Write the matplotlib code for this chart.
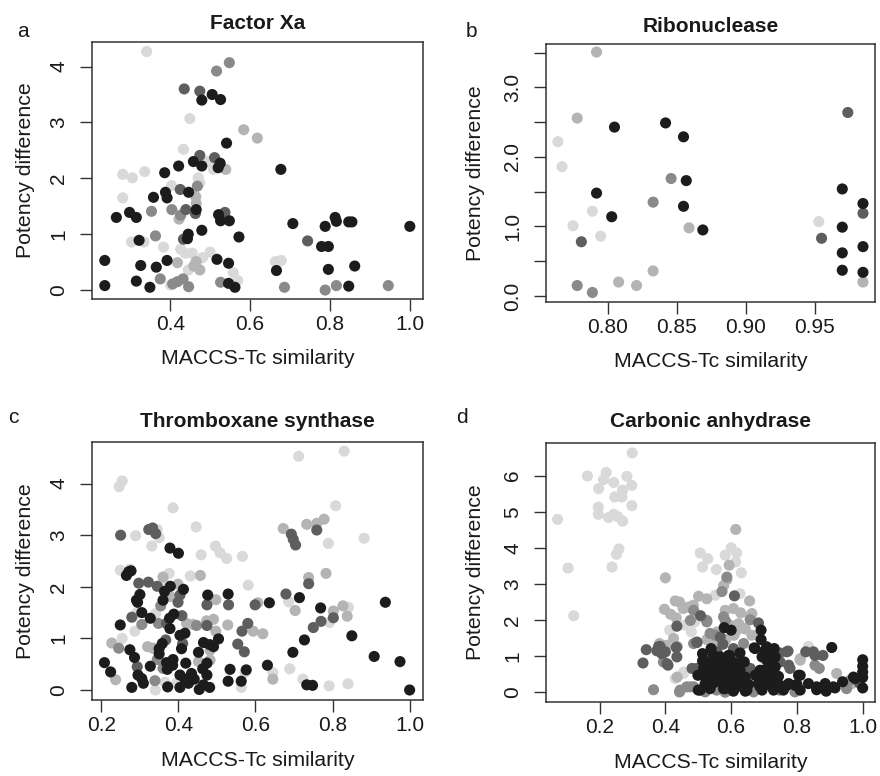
import numpy as np
import matplotlib
matplotlib.use('Agg')
import matplotlib.pyplot as plt

plt.rcParams['font.family'] = ['Liberation Sans', 'DejaVu Sans']

# grey levels: 0 = black ... 4 = very light grey
SHADES = ['#1c1c1c', '#5e5e5e', '#8a8a8a', '#b4b4b4', '#d9d9d9']

# ---- a: Factor Xa ----
a_x = [0.341, 0.548, 0.516, 0.435, 0.474, 0.505, 0.479, 0.526, 0.449, 0.584,
       0.618, 0.541, 0.433, 0.474, 0.511, 0.458, 0.479, 0.421, 0.525, 0.520,
       0.495, 0.508, 0.539, 0.677, 0.281, 0.305, 0.336, 0.386, 0.403, 0.470,
       0.474, 0.468, 0.425, 0.446, 0.388, 0.392, 0.358, 0.281, 0.464, 0.465,
       0.404, 0.439, 0.465, 0.463, 0.426, 0.422, 0.353, 0.298, 0.315, 0.265,
       0.537, 0.521, 0.526, 0.548, 0.707, 0.788, 0.813, 0.816, 0.847, 0.855,
       1.000, 0.479, 0.445, 0.443, 0.433, 0.572, 0.363, 0.322, 0.303, 0.334,
       0.383, 0.744, 0.779, 0.796, 0.426, 0.455, 0.438, 0.500, 0.481, 0.517,
       0.546, 0.392, 0.418, 0.465, 0.236, 0.326, 0.365, 0.459, 0.474, 0.445,
       0.663, 0.678, 0.666, 0.796, 0.862, 0.558, 0.569, 0.375, 0.315, 0.432,
       0.418, 0.406, 0.526, 0.546, 0.562, 0.446, 0.236, 0.349, 0.686, 0.788,
       0.816, 0.847, 0.946, 0.401]
a_y = [4.27, 4.07, 3.92, 3.60, 3.56, 3.50, 3.40, 3.41, 3.07, 2.87,
       2.72, 2.63, 2.52, 2.41, 2.37, 2.30, 2.22, 2.22, 2.27, 2.19,
       2.30, 2.16, 2.16, 2.16, 2.07, 2.01, 2.12, 2.10, 1.87, 2.01,
       1.92, 1.86, 1.80, 1.75, 1.75, 1.65, 1.66, 1.65, 1.67, 1.55,
       1.44, 1.44, 1.44, 1.37, 1.34, 1.27, 1.41, 1.39, 1.30, 1.30,
       1.39, 1.35, 1.24, 1.24, 1.19, 1.14, 1.30, 1.23, 1.22, 1.22,
       1.14, 1.07, 1.00, 0.92, 0.91, 0.95, 0.97, 0.89, 0.86, 0.86,
       0.77, 0.88, 0.78, 0.78, 0.73, 0.66, 0.66, 0.68, 0.58, 0.55,
       0.48, 0.53, 0.49, 0.51, 0.53, 0.44, 0.41, 0.43, 0.36, 0.36,
       0.51, 0.53, 0.35, 0.37, 0.43, 0.31, 0.17, 0.20, 0.16, 0.20,
       0.15, 0.11, 0.14, 0.12, 0.05, 0.06, 0.08, 0.05, 0.05, 0.00,
       0.08, 0.07, 0.08, 0.09]
a_shade = [4, 2, 2, 1, 1, 0, 0, 0, 4, 3,
           3, 0, 4, 1, 1, 0, 0, 0, 0, 0,
           4, 4, 3, 0, 4, 4, 4, 0, 4, 4,
           4, 2, 1, 0, 0, 0, 0, 4, 3, 3,
           2, 1, 0, 1, 2, 3, 2, 0, 0, 0,
           1, 0, 0, 0, 0, 0, 0, 0, 0, 0,
           0, 0, 0, 0, 1, 0, 2, 0, 4, 4,
           4, 1, 0, 0, 4, 4, 4, 4, 4, 0,
           0, 0, 3, 3, 0, 0, 0, 3, 3, 4,
           4, 4, 0, 0, 0, 4, 4, 2, 0, 2,
           2, 2, 2, 0, 0, 2, 0, 0, 2, 2,
           2, 0, 2, 4]

# ---- b: Ribonuclease ----
b_x = [0.792, 0.778, 0.764, 0.767, 0.805, 0.842, 0.855, 0.974, 0.846, 0.857,
       0.792, 0.970, 0.833, 0.855, 0.985, 0.985, 0.789, 0.803, 0.775, 0.953,
       0.859, 0.869, 0.970, 0.795, 0.955, 0.781, 0.985, 0.970, 0.833, 0.970,
       0.985, 0.985, 0.808, 0.821, 0.778, 0.789]
b_y = [3.51, 2.56, 2.22, 1.86, 2.43, 2.49, 2.29, 2.64, 1.69, 1.66,
       1.48, 1.54, 1.35, 1.29, 1.33, 1.19, 1.22, 1.14, 1.01, 1.07,
       0.98, 0.95, 0.99, 0.86, 0.83, 0.78, 0.71, 0.62, 0.36, 0.37,
       0.34, 0.20, 0.20, 0.15, 0.15, 0.05]
b_shade = [3, 3, 4, 4, 0, 0, 0, 1, 2, 0,
           0, 0, 2, 0, 0, 1, 4, 0, 4, 4,
           3, 0, 0, 4, 1, 1, 0, 0, 3, 0,
           0, 3, 3, 3, 2, 2]

# ---- c: Thromboxane synthase ----
c_x = [0.830, 0.712, 0.254, 0.246, 0.386, 0.808, 0.778, 0.759, 0.733, 0.672,
       0.446, 0.323, 0.333, 0.345, 0.341, 0.250, 0.289, 0.350, 0.693, 0.698,
       0.704, 0.759, 0.789, 0.882, 0.331, 0.378, 0.400, 0.496, 0.508, 0.459,
       0.525, 0.566, 0.274, 0.271, 0.277, 0.265, 0.249, 0.376, 0.360, 0.431,
       0.457, 0.581, 0.783, 0.738, 0.738, 0.297, 0.322, 0.345, 0.362, 0.379,
       0.364, 0.399, 0.413, 0.404, 0.399, 0.379, 0.300, 0.291, 0.294, 0.360,
       0.476, 0.529, 0.497, 0.474, 0.530, 0.679, 0.714, 0.686, 0.599, 0.606,
       0.636, 0.937, 0.827, 0.802, 0.703, 0.769, 0.841, 0.838, 0.802, 0.770,
       0.750, 0.792, 0.305, 0.293, 0.327, 0.279, 0.305, 0.348, 0.341, 0.354,
       0.377, 0.388, 0.369, 0.378, 0.409, 0.421, 0.438, 0.447, 0.473, 0.491,
       0.474, 0.497, 0.528, 0.580, 0.565, 0.594, 0.619, 0.249, 0.254, 0.287,
       0.227, 0.245, 0.274, 0.367, 0.404, 0.417, 0.411, 0.350, 0.358, 0.320,
       0.334, 0.408, 0.452, 0.465, 0.481, 0.491, 0.504, 0.482, 0.554, 0.571,
       0.727, 0.697, 0.850, 0.286, 0.293, 0.350, 0.345, 0.386, 0.369, 0.371,
       0.385, 0.360, 0.327, 0.419, 0.474, 0.463, 0.452, 0.482, 0.631, 0.534,
       0.576, 0.573, 0.908, 0.975, 0.689, 0.208, 0.224, 0.237, 0.295, 0.305,
       0.309, 0.339, 0.340, 0.279, 0.372, 0.395, 0.404, 0.417, 0.426, 0.434,
       0.441, 0.404, 0.454, 0.465, 0.481, 0.474, 0.529, 0.563, 0.563, 0.645,
       0.645, 0.723, 0.733, 0.748, 0.791, 0.840, 1.000, 0.365]
c_y = [4.63, 4.53, 4.05, 3.94, 3.53, 3.57, 3.31, 3.23, 3.21, 3.13,
       3.16, 3.11, 3.14, 3.11, 3.03, 3.00, 2.99, 2.95, 3.02, 2.92,
       2.81, 3.10, 2.84, 2.94, 2.79, 2.75, 2.65, 2.79, 2.66, 2.62,
       2.55, 2.59, 2.34, 2.29, 2.31, 2.22, 2.32, 2.26, 2.19, 2.21,
       2.22, 2.03, 2.26, 2.18, 2.06, 2.07, 2.09, 2.01, 2.09, 2.01,
       1.91, 2.05, 1.95, 1.84, 1.70, 1.81, 1.85, 1.74, 1.70, 1.74,
       1.84, 1.86, 1.75, 1.65, 1.65, 1.86, 1.79, 1.71, 1.65, 1.69,
       1.69, 1.70, 1.63, 1.53, 1.54, 1.59, 1.60, 1.43, 1.40, 1.33,
       1.21, 1.31, 1.50, 1.50, 1.39, 1.41, 1.27, 1.29, 1.48, 1.63,
       1.39, 1.47, 1.29, 1.19, 1.44, 1.29, 1.27, 1.25, 1.34, 1.37,
       1.25, 1.14, 1.26, 1.29, 1.14, 1.14, 1.09, 1.26, 1.00, 1.14,
       0.91, 0.81, 0.78, 0.97, 1.06, 1.10, 0.90, 0.80, 0.90, 0.84,
       0.81, 0.80, 0.73, 0.92, 0.88, 0.84, 0.99, 0.77, 0.89, 0.74,
       0.97, 0.73, 1.05, 0.63, 0.45, 0.70, 0.59, 0.59, 0.53, 0.40,
       0.48, 0.42, 0.46, 0.52, 0.52, 0.41, 0.55, 0.58, 0.48, 0.40,
       0.39, 0.34, 0.65, 0.55, 0.41, 0.53, 0.35, 0.20, 0.29, 0.22,
       0.13, 0.18, 0.00, 0.05, 0.06, 0.13, 0.29, 0.21, 0.13, 0.32,
       0.21, 0.05, 0.01, 0.10, 0.05, 0.29, 0.17, 0.17, 0.05, 0.21,
       0.34, 0.21, 0.10, 0.09, 0.08, 0.12, 0.00, 0.15]
c_shade = [4, 4, 4, 4, 4, 4, 3, 3, 3, 3,
           4, 1, 1, 4, 1, 1, 4, 4, 1, 1,
           1, 1, 4, 4, 4, 0, 0, 4, 4, 4,
           4, 4, 4, 0, 0, 0, 4, 4, 3, 4,
           3, 4, 3, 3, 1, 1, 1, 1, 4, 0,
           0, 3, 0, 1, 1, 3, 0, 0, 0, 0,
           0, 0, 3, 1, 1, 1, 0, 4, 1, 3,
           0, 0, 3, 3, 3, 0, 4, 3, 1, 1,
           1, 4, 0, 4, 0, 1, 2, 2, 4, 2,
           0, 0, 1, 0, 1, 3, 3, 2, 3, 3,
           1, 3, 3, 1, 1, 3, 3, 0, 4, 4,
           3, 2, 0, 1, 0, 0, 1, 0, 0, 3,
           3, 0, 0, 0, 0, 0, 0, 3, 1, 1,
           0, 0, 0, 0, 1, 0, 2, 0, 0, 0,
           0, 2, 0, 0, 0, 0, 3, 3, 0, 0,
           0, 4, 0, 0, 4, 0, 0, 3, 0, 0,
           0, 2, 4, 0, 0, 4, 0, 0, 0, 0,
           0, 0, 0, 0, 0, 0, 0, 0, 4, 3,
           4, 4, 0, 0, 4, 4, 0, 4]

# ---- d: Carbonic anhydrase ----
d_x = [0.299, 0.220, 0.163, 0.212, 0.283, 0.197, 0.243, 0.298, 0.270, 0.246,
       0.268, 0.196, 0.298, 0.196, 0.227, 0.243, 0.256, 0.270, 0.072, 0.259,
       0.251, 0.238, 0.104, 0.121, 0.614, 0.600, 0.617, 0.582, 0.506, 0.529,
       0.513, 0.555, 0.594, 0.614, 0.631, 0.587, 0.587, 0.577, 0.400, 0.572,
       0.610, 0.627, 0.501, 0.526, 0.552, 0.430, 0.443, 0.470, 0.485, 0.656,
       0.397, 0.416, 0.454, 0.486, 0.507, 0.526, 0.489, 0.460, 0.582, 0.607,
       0.629, 0.663, 0.658, 0.582, 0.597, 0.623, 0.643, 0.609, 0.683, 0.433,
       0.413, 0.435, 0.425, 0.479, 0.536, 0.567, 0.584, 0.546, 0.496, 0.526,
       0.663, 0.638, 0.382, 0.402, 0.579, 0.600, 0.691, 0.691, 0.670, 0.703,
       0.731, 0.773, 0.850, 0.906, 0.879, 0.539, 0.513, 0.546, 0.595, 0.627,
       0.513, 0.548, 0.571, 0.611, 0.640, 0.694, 0.719, 0.734, 0.749, 0.775,
       0.496, 0.521, 0.539, 0.579, 0.604, 0.627, 0.658, 0.688, 0.714, 0.734,
       0.805, 0.921, 0.499, 0.521, 0.546, 0.572, 0.597, 0.622, 0.643, 0.673,
       0.698, 0.723, 0.744, 0.972, 1.000, 1.000, 1.000, 1.000, 1.000, 0.990,
       0.521, 0.546, 0.577, 0.602, 0.627, 0.653, 0.683, 0.709, 0.729, 0.749,
       0.775, 0.800, 0.835, 0.886, 0.939, 0.500, 0.536, 0.577, 0.607, 0.643,
       0.694, 0.729, 0.759, 0.810, 0.860, 0.889, 0.916, 0.342, 0.332, 0.384,
       0.389, 0.374, 0.408, 0.433, 0.435, 0.496, 0.481, 0.575, 0.557, 0.607,
       0.617, 0.747, 0.779, 0.855, 0.810, 0.835, 0.868, 0.364, 0.443, 0.465,
       0.486, 0.521, 0.556, 0.582, 0.668, 0.747, 0.794, 0.951, 0.430, 0.455,
       0.394, 0.967,
       0.540, 0.567, 0.592, 0.622, 0.587, 0.557, 0.516, 0.536, 0.567, 0.597,
       0.627, 0.638, 0.597, 0.567, 0.541, 0.506, 0.582, 0.617, 0.648, 0.673,
       0.708, 0.723, 0.708, 0.729, 0.698, 0.723, 0.708, 0.733, 0.688, 0.769,
       0.795, 0.810, 0.860, 0.911, 0.977, 0.827, 0.855, 0.769, 0.476, 0.526,
       0.557, 0.577, 0.436, 0.486, 0.552, 0.617, 0.642, 0.658, 0.379, 0.400,
       0.405, 0.436, 0.456, 0.476, 0.445, 0.810, 0.962]
d_y = [6.63, 6.09, 5.99, 5.89, 5.98, 5.64, 5.81, 5.73, 5.60, 5.41,
       5.41, 5.13, 5.17, 4.93, 4.84, 4.93, 4.86, 4.74, 4.79, 3.97,
       3.82, 3.47, 3.44, 2.12, 4.51, 4.00, 3.86, 3.80, 3.86, 3.70,
       3.47, 3.40, 3.52, 3.61, 3.31, 3.12, 3.19, 2.95, 3.17, 2.79,
       2.67, 2.73, 2.66, 2.59, 2.69, 2.53, 2.50, 2.36, 2.41, 2.53,
       2.30, 2.16, 2.32, 2.27, 2.12, 1.95, 1.95, 1.86, 2.27, 2.32,
       2.20, 2.18, 2.01, 1.99, 1.86, 1.90, 1.76, 1.58, 1.92, 2.06,
       1.72, 1.83, 1.49, 1.67, 1.63, 1.53, 1.46, 1.35, 1.39, 1.46,
       1.58, 1.35, 1.35, 1.30, 1.79, 1.72, 1.72, 1.46, 1.23, 1.16,
       1.21, 1.14, 1.12, 1.24, 1.02, 1.21, 1.07, 1.02, 1.02, 1.09,
       0.87, 0.84, 0.79, 0.81, 0.84, 0.98, 0.93, 0.98, 0.84, 0.75,
       0.66, 0.70, 0.70, 0.63, 0.66, 0.61, 0.66, 0.61, 0.66, 0.70,
       0.47, 0.52, 0.47, 0.44, 0.44, 0.44, 0.47, 0.44, 0.42, 0.47,
       0.42, 0.44, 0.44, 0.42, 0.90, 0.72, 0.56, 0.41, 0.12, 0.26,
       0.24, 0.26, 0.19, 0.24, 0.22, 0.22, 0.24, 0.22, 0.24, 0.19,
       0.24, 0.22, 0.24, 0.24, 0.29, 0.06, 0.10, 0.10, 0.03, 0.03,
       0.06, 0.06, 0.06, 0.06, 0.07, 0.03, 0.12, 1.18, 0.81, 1.27,
       1.07, 1.15, 0.75, 1.24, 0.98, 1.38, 0.66, 1.33, 1.12, 1.21,
       0.98, 1.09, 0.66, 0.75, 0.93, 1.27, 0.66, 0.07, 0.01, 0.15,
       0.15, 0.01, 0.06, 0.00, 0.01, 0.06, 0.01, 0.10, 0.38, 0.52,
       0.84, 0.24,
       0.89, 0.98, 1.02, 0.79, 0.79, 0.70, 0.66, 0.47, 0.52, 0.56,
       0.56, 0.38, 0.33, 0.29, 0.24, 0.06, 0.10, 0.15, 0.06, 1.21,
       1.26, 1.07, 0.89, 0.70, 0.61, 0.47, 0.29, 0.24, 0.15, 0.19,
       0.19, 0.47, 0.15, 0.15, 0.38, 1.12, 1.02, 1.12, 1.99, 1.99,
       1.67, 2.09, 1.26, 1.35, 1.58, 1.72, 1.76, 2.09, 1.26, 1.12,
       0.79, 0.42, 0.56, 0.15, 0.06, 0.89, 0.33]
d_shade = [4, 4, 4, 4, 4, 4, 4, 4, 4, 4,
           4, 4, 4, 4, 4, 4, 4, 4, 4, 4,
           4, 4, 4, 4, 3, 4, 4, 4, 4, 4,
           4, 4, 3, 4, 4, 3, 2, 3, 3, 2,
           1, 4, 3, 3, 4, 3, 3, 3, 3, 3,
           3, 3, 3, 2, 1, 2, 4, 4, 3, 3,
           3, 3, 2, 2, 3, 3, 3, 3, 1, 3,
           4, 1, 3, 4, 2, 1, 3, 3, 1, 3,
           3, 2, 3, 3, 0, 0, 0, 0, 0, 0,
           0, 1, 1, 0, 1, 0, 0, 0, 0, 0,
           0, 0, 0, 0, 0, 0, 0, 0, 1, 1,
           1, 0, 0, 0, 0, 0, 1, 0, 0, 0,
           0, 3, 0, 0, 0, 0, 0, 0, 0, 0,
           0, 0, 0, 0, 0, 0, 0, 0, 0, 1,
           0, 0, 0, 0, 0, 0, 0, 0, 0, 0,
           0, 0, 0, 0, 0, 0, 0, 0, 0, 0,
           0, 0, 0, 0, 0, 0, 0, 1, 1, 1,
           1, 1, 1, 1, 1, 1, 1, 1, 1, 1,
           1, 1, 1, 2, 3, 4, 2, 2, 2, 2,
           2, 2, 2, 2, 2, 2, 2, 2, 4, 4,
           2, 3,
           0, 0, 0, 0, 0, 0, 0, 0, 0, 0,
           0, 0, 0, 0, 0, 0, 0, 0, 0, 0,
           0, 0, 0, 0, 0, 0, 0, 0, 0, 0,
           0, 0, 0, 0, 0, 1, 1, 1, 2, 2,
           3, 2, 2, 2, 2, 3, 3, 3, 1, 1,
           1, 3, 4, 2, 2, 3, 2]

TEXT = '#1a1a1a'
FIG_W, FIG_H = 880, 776


def draw_panel(rect, x, y, shade, title, letter, letter_xy, xlim, ylim,
               xticks, xlabels, yticks, ylabels, title_pad):
    ax = fig.add_axes([rect[0] / FIG_W, 1 - rect[3] / FIG_H,
                       (rect[2] - rect[0]) / FIG_W, (rect[3] - rect[1]) / FIG_H])
    x = np.array(x)
    y = np.array(y)
    shade = np.array(shade)
    # light greys first so the dark points sit on top
    order = np.argsort(-shade, kind='stable')
    ax.scatter(x[order], y[order], s=64, c=[SHADES[i] for i in shade[order]],
               linewidths=0, zorder=3)

    ax.set_xlim(xlim)
    ax.set_ylim(ylim)
    ax.set_xticks(xticks)
    ax.set_xticklabels(xlabels)
    ax.set_yticks(yticks)
    ax.set_yticklabels(ylabels, rotation=90, va='center')

    for sp in ax.spines.values():
        sp.set_linewidth(1.1)
        sp.set_color('#333333')
    ax.tick_params(direction='out', length=8.5, width=1.0, color='#333333',
                   labelsize=15, labelcolor=TEXT)
    ax.tick_params(axis='x', pad=3)
    ax.tick_params(axis='y', pad=8.5)

    w_px = rect[2] - rect[0]
    h_px = rect[3] - rect[1]
    ax.set_xlabel('MACCS-Tc similarity', fontsize=15.3, color=TEXT, va='center')
    ax.xaxis.set_label_coords(0.5, -60 / h_px)
    ax.set_ylabel('Potency difference', fontsize=15.3, color=TEXT, va='center')
    ax.yaxis.set_label_coords(-(66 if rect[0] < 400 else 71) / w_px, 0.5)
    ax.set_title(title, fontsize=15, fontweight='bold', color=TEXT, pad=title_pad)

    fig.text(letter_xy[0] / FIG_W, 1 - letter_xy[1] / FIG_H, letter,
             fontsize=15, color=TEXT, ha='left', va='baseline')
    return ax


fig = plt.figure(figsize=(FIG_W / 100, FIG_H / 100), dpi=100)

draw_panel((92, 42, 423, 299), a_x, a_y, a_shade, 'Factor Xa', 'a', (17, 37),
           (0.204, 1.033), (-0.16, 4.44),
           [0.4, 0.6, 0.8, 1.0], ['0.4', '0.6', '0.8', '1.0'],
           [0, 1, 2, 3, 4], ['0', '1', '2', '3', '4'], 9.4)

draw_panel((546, 44, 875, 302), b_x, b_y, b_shade, 'Ribonuclease', 'b', (466, 37),
           (0.7554, 0.9937), (-0.087, 3.626),
           [0.80, 0.85, 0.90, 0.95], ['0.80', '0.85', '0.90', '0.95'],
           [0.0, 0.5, 1.0, 1.5, 2.0, 2.5, 3.0, 3.5],
           ['0.0', '', '1.0', '', '2.0', '', '3.0', ''], 8.6)

draw_panel((92, 442, 423, 700), c_x, c_y, c_shade, 'Thromboxane synthase', 'c', (8, 423),
           (0.1757, 1.0347), (-0.194, 4.806),
           [0.2, 0.4, 0.6, 0.8, 1.0], ['0.2', '0.4', '0.6', '0.8', '1.0'],
           [0, 1, 2, 3, 4], ['0', '1', '2', '3', '4'], 11)

draw_panel((546, 443, 875, 702), d_x, d_y, d_shade, 'Carbonic anhydrase', 'd', (456, 423),
           (0.037, 1.0375), (-0.27, 6.905),
           [0.2, 0.4, 0.6, 0.8, 1.0], ['0.2', '0.4', '0.6', '0.8', '1.0'],
           [0, 1, 2, 3, 4, 5, 6], ['0', '1', '2', '3', '4', '5', '6'], 11.5)

fig.savefig('out.png', dpi=100, facecolor='white')
